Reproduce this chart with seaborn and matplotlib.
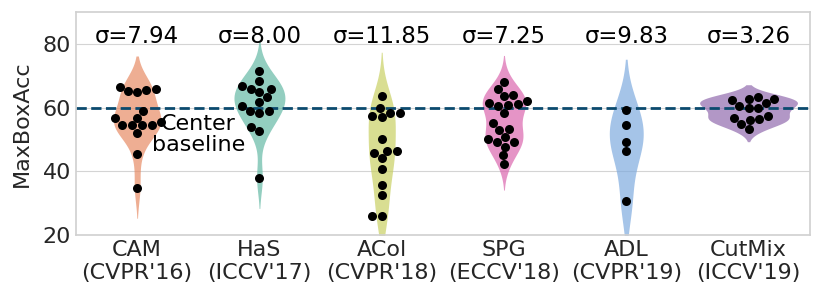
import pandas as pd
import matplotlib
matplotlib.use("Agg")
import matplotlib.pyplot as plt
import seaborn as sns

methods = ["CAM\n(CVPR'16)", "HaS\n(ICCV'17)", "ACol\n(CVPR'18)",
           "SPG\n(ECCV'18)", "ADL\n(CVPR'19)", "CutMix\n(ICCV'19)"]
sigma_labels = ["σ=7.94", "σ=8.00", "σ=11.85", "σ=7.25", "σ=9.83", "σ=3.26"]

cam = [66.6, 65.2, 64.8, 65.6, 65.9, 56.6, 54.7, 54.4, 56.8, 58.9,
       54.7, 54.5, 55.4, 52.1, 45.4, 34.9]
has = [71.6, 68.5, 66.9, 65.9, 65.9, 64.8, 63.3, 61.8, 60.4, 58.9,
       58.4, 58.9, 53.9, 52.6, 37.9]
acol = [63.5, 59.9, 57.5, 57.1, 58.4, 58.4, 50.1, 45.7, 44.1, 46.4,
        46.4, 40.7, 35.8, 32.7, 25.9, 25.9]
spg = [68.2, 65.8, 64.0, 63.5, 61.5, 60.9, 60.6, 61.2, 62.0, 58.4,
       55.2, 53.4, 52.9, 50.8, 49.2, 49.2, 50.3, 47.8, 45.1, 42.3]
adl = [59.4, 54.4, 49.3, 46.4, 30.7]
cutmix = [62.3, 60.4, 62.8, 59.9, 63.3, 59.9, 61.6, 62.8, 56.8, 54.9,
          56.1, 53.2, 56.5, 57.3]

center_baseline = 60.0

colors = ["#e68860", "#60b7a2", "#c7cf5f", "#da62ac", "#7aa8de", "#8e66ab"]

rows = []
for name, vals in zip(methods, [cam, has, acol, spg, adl, cutmix]):
    for v in vals:
        rows.append({"method": name, "acc": v})
df = pd.DataFrame(rows)

sns.set_style("whitegrid", {"axes.edgecolor": "#d0d0d0", "grid.color": "#d4d4d4"})
plt.rcParams['font.family'] = ['DejaVu Sans']

fig, ax = plt.subplots(figsize=(8.22, 3.01), dpi=100)
fig.subplots_adjust(left=0.0925, right=0.985, top=0.96, bottom=0.219)

sns.violinplot(data=df, x="method", y="acc", hue="method", palette=colors,
               inner=None, linewidth=0, legend=False, ax=ax, order=methods,
               common_norm=True, saturation=1)
for c in ax.collections:
    c.set_alpha(0.68)

ax.axhline(center_baseline, color="#0b4a6e", ls="--", lw=2, zorder=2)

sns.swarmplot(data=df, x="method", y="acc", color="black", size=6.5,
              ax=ax, order=methods, zorder=3)

for i, s in enumerate(sigma_labels):
    ax.text(i, 82.2, s, ha="center", va="center", fontsize=16.4, color="black")

ax.text(0.5, 51.6, "Center\nbaseline", ha="center", va="center", fontsize=16,
        linespacing=1.05, color="black")

ax.set_ylim(20, 90)
ax.set_yticks([20, 40, 60, 80])
ax.set_xlim(-0.5, 5.5)
ax.set_xlabel("")
ax.set_ylabel("MaxBoxAcc", fontsize=16, labelpad=8)
ax.tick_params(axis="both", labelsize=16, length=0)
for sp in ax.spines.values():
    sp.set_linewidth(1.2)

plt.savefig("out.png", dpi=100)
plt.close()
